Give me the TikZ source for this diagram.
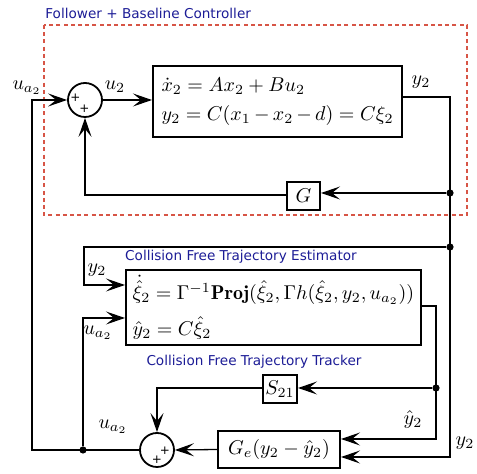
\documentclass[tikz,border=0pt]{standalone}
\usepackage{amsmath}
\usepackage{fontspec}
\newfontfamily\titlefont{DejaVu Sans}
\usetikzlibrary{arrows.meta,calc}
\definecolor{titleblue}{RGB}{28,28,150}
\definecolor{dashred}{RGB}{215,85,70}
\tikzset{
  conn/.style={line width=0.65pt},
  arr/.style={conn,-{Stealth[length=9.5pt,width=6.5pt,inset=4pt]}},
  blockbox/.style={draw,line width=1pt,rectangle,inner sep=0pt},
  sumnode/.style={draw,line width=0.9pt,circle,minimum size=17pt,inner sep=0pt},
  title/.style={text=titleblue,font=\titlefont\fontsize{6.8}{8}\selectfont,inner sep=0pt},
  lbl/.style={inner sep=0pt},
  plus/.style={inner sep=0pt,font=\titlefont\fontsize{6}{6}\selectfont},
  dot/.style={circle,fill,inner sep=0pt,minimum size=3.6pt}
}
\begin{document}
\begin{tikzpicture}[x=0.5pt,y=-0.5pt]
\useasboundingbox (0,0) rectangle (477,474);
% dashed box
\draw[dashred,line width=0.7pt,dash pattern=on 2pt off 1.6pt] (44,25) rectangle (467,215);
\node[title,anchor=west] (t1) at (45,13) {Follower + Baseline Controller};
\node[title] (t2) at (241,257) {Collision Free Trajectory Estimator};
\node[title] (t3) at (254,362) {Collision Free Trajectory Tracker};
% nodes
\node[sumnode] (sum1) at (85,100) {};
\node[plus] (p1a) at (75.5,98) {+};
\node[plus] (p1b) at (84.5,109) {+};
\node[blockbox,minimum width=124.5pt,minimum height=35.5pt,text width=116pt,align=left] (plant) at (277.5,101.5)
  {$\dot{x}_2 = Ax_2 + Bu_2$\\[2.5pt] $y_2 = C(x_1-x_2-d) = C\xi_2$};
\node[blockbox,minimum width=16.5pt,minimum height=14pt] (G) at (303.5,196) {$G$};
\node[blockbox,minimum width=147.5pt,minimum height=37.5pt,text width=141pt,align=left] (est) at (273.5,307.5)
  {$\dot{\hat{\xi}}_2 = \Gamma^{-1}\mathbf{Proj}(\hat{\xi}_2,\Gamma h(\hat{\xi}_2,y_2,u_{a_2}))$\\[5pt] $\hat{y}_2 = C\hat{\xi}_2$};
\node[blockbox,minimum width=17pt,minimum height=14pt] (S) at (280,389) {$S_{21}$};
\node[blockbox,minimum width=61pt,minimum height=18.5pt] (Ge) at (279,449.5) {$G_e(y_2-\hat{y}_2)$};
\node[sumnode] (sum2) at (157,450) {};
\node[plus] (p2a) at (165,451) {+};
\node[plus] (p2b) at (157,460) {+};
% coordinates
\coordinate (cl) at (32,450);
\coordinate (pr) at (450,97);
\coordinate (pb) at (450,457);
\node[dot] (j1) at (450,193) {};
\node[dot] (j2) at (450,247) {};
\node[dot] (j3) at (436,388) {};
\node[dot] (j4) at (83,450) {};
\coordinate (er) at (436,306);
\coordinate (eb) at (436,439);
\coordinate (gl) at (85,195);
\coordinate (el) at (84,247);
\coordinate (ey) at (84,285);
\coordinate (eu) at (83,318);
\coordinate (sl) at (157,388);
% connectors
\draw[arr] (sum2.west) -- (cl) |- (sum1.west);
\draw[arr] (sum1.east) -- (sum1.east -| plant.west);
\draw[arr] (pr -| plant.east) -- (pr) -- (pb) -- (pb -| Ge.east);
\draw[arr] (j1) -- (j1 -| G.east);
\draw[arr] (gl -| G.west) -- (gl) -- (sum1.south);
\draw[arr] (j2) -- (el) -- (ey) -- (ey -| est.west);
\draw[arr] (j4) -- (eu) -- (eu -| est.west);
\draw[arr] (er -| est.east) -- (er) -- (eb) -- (eb -| Ge.east);
\draw[arr] (j3) -- (j3 -| S.east);
\draw[arr] (sl -| S.west) -- (sl) -- (sum2.north);
\draw[arr] (Ge.west) -- (sum2.east);
% labels
\node[lbl] (l1) at (27,88) {$u_{a_2}$};
\node[lbl] (l2) at (115,87) {$u_2$};
\node[lbl] (l3) at (421,82) {$y_2$};
\node[lbl] (l4) at (97,270) {$y_2$};
\node[lbl] (l5) at (98,333) {$u_{a_2}$};
\node[lbl] (l6) at (413,420) {$\hat{y}_2$};
\node[lbl] (l7) at (465,443) {$y_2$};
\node[lbl] (l8) at (113,427) {$u_{a_2}$};
\end{tikzpicture}
\end{document}
